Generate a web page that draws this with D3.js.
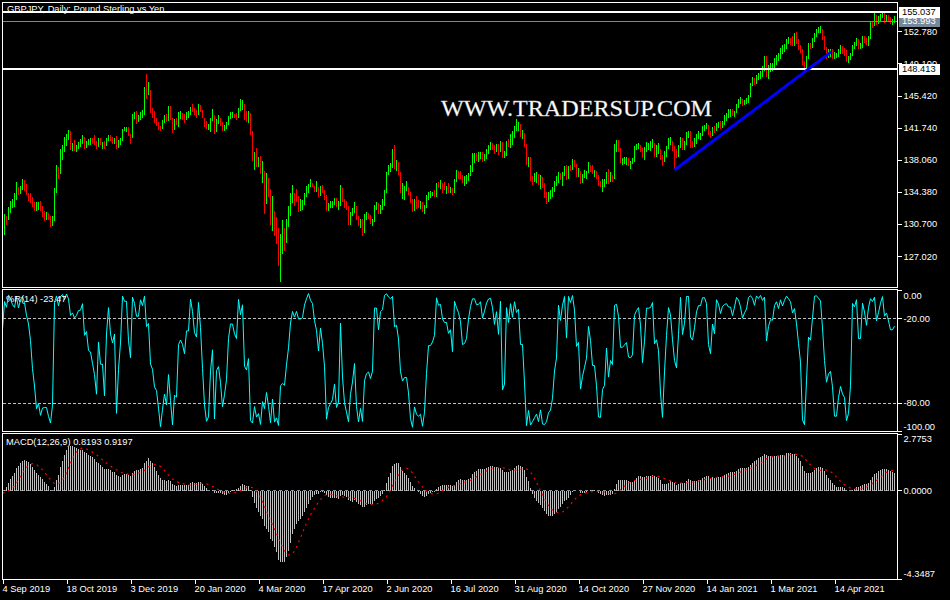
<!DOCTYPE html>
<html><head><meta charset="utf-8">
<script src="https://cdn.jsdelivr.net/npm/d3@7"></script>
<style>body{margin:0;background:#000;}svg{display:block}</style>
</head><body><svg id="c" width="950" height="600"></svg>
<script>
// ---------- DATA (GBPJPY daily) ----------
// warm-up history (Aug 1 - Sep 3 2019), used only to prime the indicators
const priorHighs  = [131.6,130.8,129.9,129.9,129.8,129.6,129.3,127.8,129.0,128.9,129.2,129.6,129.8,129.6,129.8,130.5,130.4,129.9,130.2,130.1,129.9,129.8,129.3,128.4];
const priorLows   = [129.8,129.3,128.0,128.4,128.7,128.5,126.9,126.5,126.9,127.5,127.6,128.8,129.0,128.9,129.0,129.2,128.3,128.8,129.4,129.3,129.3,129.0,127.9,126.9];
const priorCloses = [130.5,129.6,128.7,129.6,129.0,128.9,127.2,127.0,128.7,127.7,128.9,129.2,129.3,129.3,129.3,130.2,129.4,129.6,129.8,129.6,129.6,129.2,128.1,127.8];

const closes = [
129.5,131.4,131.2,
132.4,132.9,132.9,133.3,135.1,
134.4,134.9,135.4,135.0,134.2,
133.9,133.5,132.9,132.6,132.6,
132.9,132.6,132.2,131.8,131.8,
131.5,130.7,131.3,134.4,137.2,
136.7,138.9,139.4,140.0,140.7,
140.8,139.5,139.7,139.3,139.5,
139.9,140.0,140.8,139.7,140.0,
140.0,140.4,140.2,140.0,139.6,
140.2,139.9,139.9,139.7,140.4,
140.7,140.4,140.3,140.4,139.5,
140.0,140.3,141.5,141.6,141.6,
140.9,140.6,143.1,143.1,142.8,
142.8,143.3,143.3,146.1,145.8,
146.0,143.7,143.4,142.4,142.2,
141.7,141.6,142.4,143.1,
142.6,144.0,142.8,141.4,
142.6,142.3,143.0,143.1,143.0,
142.8,143.3,143.3,144.0,143.9,
143.4,143.3,144.2,143.7,143.0,
142.3,141.8,141.8,142.6,143.1,
141.3,142.5,142.6,142.2,141.6,
141.9,142.2,142.9,143.2,143.2,
143.0,142.9,143.8,144.3,144.6,
143.0,142.9,143.2,141.2,138.3,
138.3,137.7,137.9,136.8,137.4,
133.9,135.4,134.1,131.4,133.0,
130.2,129.8,126.5,128.9,129.2,
128.7,130.8,132.2,133.8,134.6,
133.7,133.5,132.9,132.9,133.0,
134.0,134.5,135.1,135.2,135.1,
134.6,134.6,134.2,134.8,134.4,
133.8,132.5,132.8,132.9,133.0,
133.4,132.8,132.9,134.8,133.5,
132.8,132.6,130.9,131.8,132.2,
132.8,131.4,130.8,131.0,129.7,
131.4,131.7,131.6,130.9,131.0,
132.7,132.7,132.1,132.6,133.0,
134.4,136.5,137.0,137.2,138.9,
137.3,137.4,136.5,134.6,134.6,
134.8,134.8,134.3,133.4,132.3,
133.4,133.0,132.9,133.0,132.3,
132.6,133.8,134.1,134.1,134.2,
133.9,135.2,135.1,135.3,134.9,
134.8,134.8,134.5,134.6,134.3,
135.7,136.5,136.4,136.2,135.7,
135.8,135.9,136.3,137.0,138.5,
138.5,138.3,138.4,138.6,138.2,
138.4,138.9,139.4,139.8,139.5,
139.0,139.5,139.0,140.0,138.5,
138.6,139.9,139.8,140.7,140.7,
141.6,142.0,142.1,141.0,141.0,
139.8,137.6,138.0,135.9,135.7,
135.9,136.1,135.7,135.9,135.1,
134.1,133.6,134.1,134.2,134.6,
135.3,135.8,136.3,135.9,136.3,
137.1,135.9,137.2,137.1,137.9,
137.4,136.3,136.5,135.5,136.2,
136.4,136.6,137.3,137.1,136.6,
136.6,136.2,135.4,135.2,135.4,
135.5,136.4,135.7,136.1,136.0,
139.3,139.7,139.2,137.9,137.9,
138.0,138.1,137.5,137.7,138.0,
139.4,139.6,139.7,139.2,138.6,
139.1,139.7,139.7,139.8,140.1,
139.1,139.2,139.2,138.5,137.6,
138.6,139.4,140.1,140.1,139.5,
138.8,138.6,139.5,140.5,
139.5,139.8,141.0,141.1,
139.9,139.8,140.2,140.7,140.9,
140.9,141.7,141.9,142.0,141.1,
140.9,141.6,141.4,142.1,142.1,
142.0,142.2,142.9,143.1,143.5,
143.5,143.3,143.5,144.2,144.7,
144.8,144.5,144.7,144.8,145.3,
146.7,147.2,147.0,147.6,147.7,
148.0,148.4,149.7,147.9,148.5,
148.8,148.8,149.4,149.7,149.8,
150.6,150.7,151.0,151.7,151.8,
151.7,151.4,151.9,151.6,151.0,
150.6,149.2,148.4,149.8,151.2,
151.1,151.8,152.5,152.9,153.0,
153.0,152.0,150.8,150.0,150.3,
150.4,149.9,150.0,150.0,150.5,
150.8,150.6,150.5,149.6,149.6,
150.1,151.0,151.3,151.8,151.0,
151.0,152.0,151.8,151.5,151.9,
153.7,153.6,154.7,153.8,154.2,
154.6,154.8,154.2,154.3,154.1,
153.9,153.9,154.0];

const highs = [
129.8,131.8,131.6,
132.6,133.3,133.6,134.2,135.5,
134.9,135.0,135.8,135.7,135.3,
134.3,134.2,133.8,133.2,133.2,
133.2,133.3,132.8,132.2,132.1,
132.0,131.6,131.6,134.8,137.5,
137.2,139.3,139.7,140.7,141.0,
141.5,141.3,140.0,140.3,139.8,
140.1,140.4,140.9,140.7,140.2,
140.4,140.6,140.6,140.9,140.2,
140.5,140.6,140.1,140.2,140.6,
140.9,140.9,140.7,140.6,140.8,
140.3,140.5,141.6,141.8,141.8,
141.8,141.0,143.3,143.5,143.6,
143.2,143.5,143.8,146.4,147.9,
147.0,146.1,144.0,143.6,142.8,
142.4,141.9,142.6,143.2,
143.3,144.2,144.2,142.8,
142.7,142.9,143.5,143.6,143.4,
143.3,143.5,143.6,144.1,144.4,
144.0,143.8,144.5,144.3,143.8,
142.9,142.5,142.2,142.8,143.9,
143.2,142.7,143.2,142.8,142.4,
142.0,142.4,143.1,143.5,143.5,
143.3,143.4,144.0,145.0,144.9,
144.4,143.6,143.6,143.4,141.3,
138.9,139.4,138.4,138.5,137.9,
136.8,136.5,136.0,134.7,133.9,
132.2,131.5,130.2,129.5,131.2,
130.2,131.3,132.7,134.2,135.2,
134.3,134.7,133.9,133.6,133.4,
134.3,135.0,135.3,135.8,135.4,
135.1,135.6,134.9,135.0,135.2,
134.6,134.0,133.1,133.3,133.3,
133.7,133.7,133.3,135.2,134.8,
133.6,133.3,132.7,132.1,132.5,
133.2,132.8,131.6,131.3,131.3,
131.8,132.1,132.0,131.7,131.3,
132.9,133.2,133.1,132.9,133.6,
134.6,136.7,137.4,137.7,139.3,
139.7,138.0,137.8,136.7,135.4,
135.0,135.6,134.9,134.4,133.6,
133.6,133.9,133.5,133.3,133.2,
132.9,134.0,134.4,134.5,134.4,
134.6,135.4,135.5,135.7,135.4,
135.5,135.0,135.4,134.9,134.8,
135.9,136.9,136.8,136.8,136.3,
136.2,136.3,136.5,137.4,138.8,
138.8,138.8,138.9,139.0,138.9,
138.7,139.3,139.7,140.1,140.0,
139.7,139.9,139.9,140.2,140.1,
139.1,140.2,140.4,141.0,141.3,
141.9,142.7,142.4,142.2,141.5,
141.1,139.9,138.4,138.4,136.2,
136.5,136.6,136.4,136.3,136.1,
135.4,134.4,134.4,134.6,134.9,
135.6,136.2,136.7,136.5,136.6,
137.3,137.4,137.3,137.5,138.1,
138.0,137.6,137.1,136.8,136.4,
136.9,136.8,137.8,137.5,137.4,
136.9,136.8,136.3,135.6,135.8,
135.8,136.7,137.0,136.6,136.3,
139.9,140.3,140.3,139.4,138.3,
138.4,138.4,138.3,137.9,138.3,
139.6,139.9,140.0,139.8,139.4,
139.5,140.1,140.0,140.2,140.4,
140.0,139.7,140.0,139.3,138.6,
139.1,139.6,140.5,140.7,140.2,
139.6,139.3,139.8,140.7,
140.5,140.2,141.2,141.3,
141.4,140.2,140.6,141.0,141.4,
141.1,141.9,142.1,142.3,142.1,
141.3,141.8,141.9,142.3,142.4,
142.5,142.5,143.2,143.4,143.9,
143.9,143.9,143.7,144.4,145.0,
145.3,145.0,144.9,145.1,145.5,
146.9,147.5,147.4,147.8,148.0,
148.2,148.8,150.0,149.9,148.9,
149.2,149.1,149.7,150.1,150.3,
150.9,151.2,151.3,151.9,152.1,
152.0,152.2,152.6,152.7,151.9,
151.2,150.8,149.4,150.0,151.4,
151.5,152.0,152.6,153.1,153.3,
153.4,153.1,152.2,151.0,150.7,
150.8,150.7,150.4,150.3,150.7,
151.2,151.1,150.9,150.6,150.0,
150.3,151.2,151.6,152.0,151.9,
151.4,152.3,152.2,152.0,152.3,
154.0,154.0,155.0,154.7,154.5,
154.8,155.0,154.9,154.6,154.6,
154.4,154.2,154.5];

const lows = [
127.9,129.4,130.6,
131.1,132.0,132.5,132.6,133.4,
134.0,134.1,134.6,134.5,134.0,
133.3,133.1,132.6,132.2,132.2,
132.3,132.2,131.5,131.0,131.2,
131.2,130.4,130.5,131.0,134.3,
135.9,136.4,138.0,139.0,139.6,
140.3,139.2,139.1,139.1,139.0,
139.3,139.5,139.9,139.3,139.4,
139.7,139.8,139.9,139.8,139.3,
139.5,139.7,139.3,139.3,139.6,
140.2,140.2,139.9,139.9,139.3,
139.4,139.8,140.2,141.3,141.2,
140.8,139.9,140.5,142.7,142.2,
142.4,142.6,142.9,143.2,145.0,
145.5,143.4,142.9,142.3,141.9,
141.5,141.4,141.6,142.3,
142.4,142.5,142.6,141.1,
141.5,142.0,141.8,142.7,142.6,
142.3,142.6,142.9,143.2,143.5,
143.2,142.8,143.2,143.5,142.8,
141.8,141.6,141.5,141.2,142.5,
141.0,141.2,142.2,141.9,141.3,
141.4,141.6,142.1,142.7,142.9,
142.8,142.6,142.8,143.7,143.8,
142.6,142.4,142.3,140.9,137.9,
136.9,137.2,137.2,136.4,135.4,
131.8,133.0,133.8,130.6,129.9,
129.3,128.4,125.9,124.0,127.3,
127.6,128.5,130.3,131.6,133.1,
132.7,133.2,132.1,132.2,132.3,
132.9,133.8,134.3,134.9,134.9,
134.4,134.4,133.8,133.9,134.2,
133.5,132.2,132.2,132.5,132.5,
132.9,132.6,132.3,132.8,133.2,
132.5,132.3,130.6,130.6,131.6,
132.0,131.2,130.5,130.2,129.3,
129.7,131.2,131.3,130.7,130.5,
130.9,132.3,131.8,131.8,132.3,
132.8,134.3,136.3,136.6,137.1,
137.0,136.8,136.3,134.3,133.6,
133.4,134.5,134.0,133.1,132.1,
132.2,132.4,132.5,132.4,132.1,
131.8,132.5,133.4,133.7,133.9,
133.8,133.8,134.8,134.7,134.3,
134.6,134.1,134.3,134.2,134.0,
134.2,135.5,135.9,135.8,135.4,
135.0,135.3,135.6,136.2,136.6,
137.7,137.9,137.8,138.1,137.8,
137.9,138.2,138.7,139.2,139.2,
138.7,138.9,138.6,138.9,138.3,
138.3,138.5,139.5,139.4,139.8,
140.6,141.3,141.4,140.7,140.4,
139.5,137.4,137.2,135.6,135.2,
135.5,135.4,135.2,134.7,134.8,
133.7,133.0,133.2,133.6,133.8,
134.4,135.1,135.4,135.7,135.0,
136.2,135.7,135.9,136.8,136.9,
137.2,136.1,136.1,135.3,135.4,
136.0,135.9,136.5,136.6,136.4,
136.1,135.9,135.1,134.9,134.4,
134.9,135.3,135.3,135.5,135.5,
135.9,138.9,138.9,137.7,137.4,
137.6,137.5,137.3,137.0,137.6,
137.8,139.2,139.3,139.0,138.3,
138.0,139.0,139.2,139.1,139.4,
138.4,138.4,138.7,138.0,137.3,
137.8,138.4,139.3,139.7,139.1,
136.9,138.3,138.4,139.4,
139.2,139.2,139.7,140.6,
139.4,139.4,139.5,139.9,140.4,
140.3,140.8,141.3,141.6,140.9,
140.6,140.8,141.1,141.3,141.7,
141.6,141.7,142.0,142.5,142.9,
143.0,143.1,143.0,143.4,144.0,
144.5,144.2,144.3,144.4,144.6,
145.3,146.5,146.6,146.8,147.2,
147.3,147.6,148.2,147.5,147.3,
148.1,148.2,148.6,148.9,149.4,
149.6,150.2,150.4,150.8,151.3,
151.2,151.1,151.1,151.3,150.6,
150.3,148.9,148.2,148.3,149.6,
150.7,150.9,151.6,152.1,152.6,
152.6,151.8,150.6,149.6,149.7,
149.8,149.6,149.6,149.7,149.8,
150.2,150.2,150.0,149.3,149.1,
149.5,150.0,150.8,151.1,150.8,
150.7,150.9,151.5,151.2,151.1,
151.9,153.2,153.4,153.5,153.6,
154.0,154.3,153.7,153.8,153.8,
153.6,153.5,153.7];

const dateLabels = ["4 Sep 2019","18 Oct 2019","3 Dec 2019","20 Jan 2020","4 Mar 2020","17 Apr 2020","2 Jun 2020","16 Jul 2020","31 Aug 2020","14 Oct 2020","27 Nov 2020","14 Jan 2021","1 Mar 2021","14 Apr 2021"];
const dateLabelBars = [0,32,64,96,128,160,192,224,256,288,320,352,384,416];
const priceTicks = [152.78,149.10,145.42,141.74,138.06,134.38,130.70,127.02];
const wprTicks = [0,-20,-80,-100];
const wprLevels = [-20,-80];
const macdTicks = [2.7753,0,-4.3487];
const lineHigh = 155.037, lineBid = 153.993, lineLow = 148.413;
const trendPoints = [{bar:336, price:136.88},{bar:414.5, price:150.45}];
const titleText = "GBPJPY, Daily:  Pound Sterling vs Yen";
const wprText = "%R(14) -23.47";
const macdText = "MACD(12,26,9) 0.8193 0.9197";
const watermark = "WWW.TRADERSUP.COM";

// ---------- INDICATORS ----------
const allC = priorCloses.concat(closes), allH = priorHighs.concat(highs), allL = priorLows.concat(lows);
const off = priorCloses.length;
function ema(arr, p){ const a=2/(p+1); const out=[]; arr.forEach((v,i)=>out.push(i?a*v+(1-a)*out[i-1]:v)); return out; }
const e12 = ema(allC,12), e26 = ema(allC,26);
const macdAll = e12.map((v,i)=>v-e26[i]);
const sigAll = macdAll.map((v,i)=>{ const s=macdAll.slice(Math.max(0,i-8),i+1); return d3.mean(s); });
const wprAll = allC.map((c,i)=>{ const hh=d3.max(allH.slice(Math.max(0,i-13),i+1)); const ll=d3.min(allL.slice(Math.max(0,i-13),i+1)); return hh===ll? -50 : -100*(hh-c)/(hh-ll); });
const macd = macdAll.slice(off), signal = sigAll.slice(off), wpr = wprAll.slice(off);

// ---------- DRAW ----------
const FONT = "'Liberation Sans', Arial, sans-serif";
const svg = d3.select("#c").attr("shape-rendering","crispEdges");
svg.append("rect").attr("width",950).attr("height",600).attr("fill","#000");
const n = closes.length;
const x = d3.scaleLinear().domain([0, n-1]).range([2.5, 2.5 + 2*(n-1)]);
const yP = d3.scaleLinear().domain([123.47,156.03]).range([287,3]);
const yR = d3.scaleLinear().domain([-100,0]).range([431,290]);
const yM = d3.scaleLinear().domain([-4.3487,2.7753]).range([579,433.5]);
const L = 2.5, R = 897.5;

// title
svg.append("text").attr("x",7).attr("y",11.5).attr("fill","#fff").attr("font-family",FONT).attr("font-size","9.3px").text(titleText);

// price bars
const idx = d3.range(n);
svg.append("g").selectAll("line").data(idx).join("line")
  .attr("x1",i=>x(i)).attr("x2",i=>x(i))
  .attr("y1",i=>yP(highs[i])).attr("y2",i=>yP(lows[i]))
  .attr("stroke",i=>closes[i] >= (i?closes[i-1]:priorCloses[priorCloses.length-1]) ? "#00ff00" : "#ff0000")
  .attr("stroke-width",1);

// horizontal lines
svg.append("line").attr("x1",L).attr("x2",R).attr("y1",Math.round(yP(lineBid))+0.5).attr("y2",Math.round(yP(lineBid))+0.5).attr("stroke","#778899");
[lineHigh,lineLow].forEach(p=>{
  svg.append("line").attr("x1",L).attr("x2",R).attr("y1",Math.round(yP(p))).attr("y2",Math.round(yP(p))).attr("stroke","#fff").attr("stroke-width",2);
});

// trend line
svg.append("line").attr("shape-rendering","auto")
  .attr("x1",x(trendPoints[0].bar)).attr("y1",yP(trendPoints[0].price))
  .attr("x2",x(trendPoints[1].bar)).attr("y2",yP(trendPoints[1].price))
  .attr("stroke","#0000ff").attr("stroke-width",3);

// watermark
svg.append("text").attr("x",441).attr("y",116).attr("fill","#fff").attr("stroke","#c8c8c8").attr("stroke-width",0.3)
  .attr("font-family","'Liberation Serif','Times New Roman',serif").attr("font-size","24px")
  .attr("textLength",271).attr("lengthAdjust","spacingAndGlyphs").attr("shape-rendering","auto").text(watermark);

// %R panel
svg.append("g").selectAll("line").data(wprLevels).join("line")
  .attr("x1",L).attr("x2",R).attr("y1",d=>Math.round(yR(d))+0.5).attr("y2",d=>Math.round(yR(d))+0.5)
  .attr("stroke","#c0c0c0").attr("stroke-dasharray","3,2");
svg.append("path").datum(wpr).attr("fill","none").attr("stroke","#00ffff").attr("stroke-width",1).attr("shape-rendering","auto")
  .attr("d", d3.line().x((d,i)=>x(i)).y(d=>yR(d)));
svg.append("text").attr("x",6).attr("y",301.5).attr("fill","#fff").attr("font-family",FONT).attr("font-size","9.3px").text(wprText);

// MACD panel
const y0 = Math.round(yM(0))+0.5;
svg.append("line").attr("x1",L).attr("x2",R).attr("y1",y0).attr("y2",y0).attr("stroke","#7f93a8").attr("stroke-dasharray","3,3");
svg.append("g").selectAll("line").data(idx).join("line")
  .attr("x1",i=>x(i)).attr("x2",i=>x(i))
  .attr("y1",y0).attr("y2",i=>yM(macd[i]))
  .attr("stroke","#c0c0c0").attr("stroke-width",1);
svg.append("path").datum(signal).attr("fill","none").attr("stroke","#ff0000").attr("stroke-width",1.2).attr("stroke-dasharray","2,4").attr("shape-rendering","auto")
  .attr("d", d3.line().x((d,i)=>x(i)).y(d=>yM(d)));
svg.append("text").attr("x",6).attr("y",445).attr("fill","#fff").attr("font-family",FONT).attr("font-size","9.3px").text(macdText);

// frames
[[2.5,287.5],[289.5,431.5],[433.5,579.5]].forEach(([t,b])=>{
  svg.append("rect").attr("x",L).attr("y",t).attr("width",R-L).attr("height",b-t).attr("fill","none").attr("stroke","#fff");
});

// axes
function styleAxis(g){
  g.selectAll("path.domain").attr("stroke","#fff");
  g.selectAll(".tick line").attr("stroke","#fff");
  g.selectAll(".tick text").attr("fill","#fff").attr("font-family",FONT).attr("font-size","9.3px");
}
const gP = svg.append("g").attr("transform",`translate(${R},0)`)
  .call(d3.axisRight(yP).tickValues(priceTicks).tickSize(4).tickSizeOuter(0).tickPadding(2).tickFormat(d=>d.toFixed(3)));
styleAxis(gP); gP.select("path.domain").remove();
const gR = svg.append("g").attr("transform",`translate(${R},0)`)
  .call(d3.axisRight(yR).tickValues(wprTicks).tickSize(4).tickSizeOuter(0).tickPadding(2).tickFormat(d=>d.toFixed(2)));
styleAxis(gR); gR.select("path.domain").remove();
gR.selectAll(".tick text").attr("dy",d=> d===0 ? "0.95em" : d===-100 ? "-0.2em" : "0.32em");
const gM = svg.append("g").attr("transform",`translate(${R},0)`)
  .call(d3.axisRight(yM).tickValues(macdTicks).tickSize(4).tickSizeOuter(0).tickPadding(2).tickFormat(d=>d.toFixed(4)));
styleAxis(gM); gM.select("path.domain").remove();
gM.selectAll(".tick text").attr("dy",d=> d>0 ? "0.85em" : d<0 ? "-0.25em" : "0.32em");

const gX = svg.append("g").attr("transform","translate(0,579.5)")
  .call(d3.axisBottom(x).tickValues(dateLabelBars).tickSize(4).tickSizeOuter(0).tickPadding(2).tickFormat((d,i)=>dateLabels[i]));
styleAxis(gX); gX.select("path.domain").remove();
gX.selectAll(".tick text").attr("text-anchor","start").attr("dx","-0.5").attr("dy","0.75em");

// price label boxes on the axis
function priceBox(p, bg, fg){
  const yy = Math.round(yP(p));
  svg.append("rect").attr("x",899).attr("y",yy-5.5).attr("width",41).attr("height",11).attr("fill",bg);
  svg.append("text").attr("x",902).attr("y",yy).attr("dy","0.35em").attr("fill",fg).attr("font-family",FONT).attr("font-size","9.3px").text(p.toFixed(3));
}
priceBox(lineBid,"#778899","#fff");
priceBox(lineHigh,"#fff","#000");
priceBox(lineLow,"#fff","#000");
</script></body></html>
